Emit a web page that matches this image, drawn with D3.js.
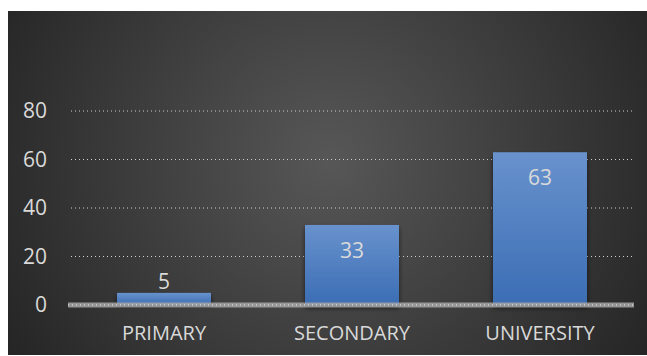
<!DOCTYPE html>
<meta charset="utf-8">
<script src="https://d3js.org/d3.v7.min.js"></script>
<style>
  body { margin: 0; background: #fff; }
  text { font-family: "Open Sans", "Noto Sans", sans-serif; }
</style>
<div id="chart"></div>
<script>
// data
const categories = ["PRIMARY", "SECONDARY", "UNIVERSITY"];
const values = [5, 33, 63];
const yTicks = [0, 20, 40, 60, 80];

const W = 647, H = 356;
const margin = { left: 70, right: 13, zero: 305, unit: 2.425 };
const width = W - margin.left - margin.right;

const svg = d3.select("#chart").append("svg")
    .attr("width", W).attr("height", H);

const defs = svg.append("defs");

// background gradient
const bg = defs.append("radialGradient").attr("id", "bg")
    .attr("gradientUnits", "userSpaceOnUse")
    .attr("cx", 330).attr("cy", 160).attr("r", 390);
bg.append("stop").attr("offset", "0%").attr("stop-color", "#575757");
bg.append("stop").attr("offset", "100%").attr("stop-color", "#232323");

const barGrad = defs.append("linearGradient").attr("id", "barGrad")
    .attr("x1", 0).attr("y1", 0).attr("x2", 0).attr("y2", 1);
barGrad.append("stop").attr("offset", "0%").attr("stop-color", "#6892cd");
barGrad.append("stop").attr("offset", "100%").attr("stop-color", "#3b6db4");

const shadow = defs.append("filter").attr("id", "shadow")
    .attr("x", "-10%").attr("y", "-10%").attr("width", "120%").attr("height", "130%");
shadow.append("feDropShadow").attr("dx", 0).attr("dy", 3).attr("stdDeviation", 2.5)
    .attr("flood-color", "#000").attr("flood-opacity", 0.6);

svg.append("rect").attr("x", 8).attr("y", 11)
    .attr("width", W - 8).attr("height", H - 12)
    .attr("fill", "url(#bg)");

const g = svg.append("g").attr("transform", `translate(${margin.left},0)`);

const x = d3.scaleBand().domain(categories).range([0, width])
    .paddingInner(0.5).paddingOuter(0.25);
const y = d3.scaleLinear().domain([0, 80])
    .range([margin.zero, margin.zero - 80 * margin.unit]);

// gridlines
g.append("g").selectAll("line").data(yTicks.filter(d => d > 0)).join("line")
    .attr("x1", 1).attr("x2", width - 1)
    .attr("y1", d => y(d)).attr("y2", d => y(d))
    .attr("stroke", "#d0d0d0").attr("stroke-width", 1)
    .attr("stroke-dasharray", "1,3");

// y axis labels
const yAxis = g.append("g").call(d3.axisLeft(y).tickValues(yTicks).tickSize(0).tickPadding(23));
yAxis.select(".domain").remove();
yAxis.selectAll("text").attr("fill", "#d9d9d9").attr("font-size", 21)
    .attr("font-family", "'Open Sans', sans-serif");

// bars
g.append("g").selectAll("rect").data(values).join("rect")
    .attr("x", (d, i) => x(categories[i]))
    .attr("y", d => y(d))
    .attr("width", x.bandwidth())
    .attr("height", d => y(0) - y(d))
    .attr("fill", "url(#barGrad)")
    .attr("filter", "url(#shadow)");

// zero line
g.append("line").attr("x1", -2).attr("x2", width)
    .attr("y1", y(0)).attr("y2", y(0))
    .attr("stroke", "#a6a6a6").attr("stroke-width", 5).attr("opacity", 0.85);
g.append("line").attr("x1", -2).attr("x2", width)
    .attr("y1", y(0)).attr("y2", y(0))
    .attr("stroke", "#eeeeee").attr("stroke-width", 1)
    .attr("stroke-dasharray", "1,3");

// data labels
g.append("g").selectAll("text").data(values).join("text")
    .attr("x", (d, i) => x(categories[i]) + x.bandwidth() / 2)
    .attr("y", d => (y(0) - y(d) > 30) ? y(d) + 33 : y(d) - 4)
    .attr("text-anchor", "middle")
    .attr("fill", "#d9d9d9").attr("font-size", 21)
    .text(d => d);

// x axis labels
const xAxis = g.append("g").attr("transform", `translate(0,${y(0)})`)
    .call(d3.axisBottom(x).tickSize(0).tickPadding(21));
xAxis.select(".domain").remove();
xAxis.selectAll("text").attr("fill", "#d9d9d9").attr("font-size", 20)
    .attr("font-family", "'Open Sans', sans-serif");
</script>
